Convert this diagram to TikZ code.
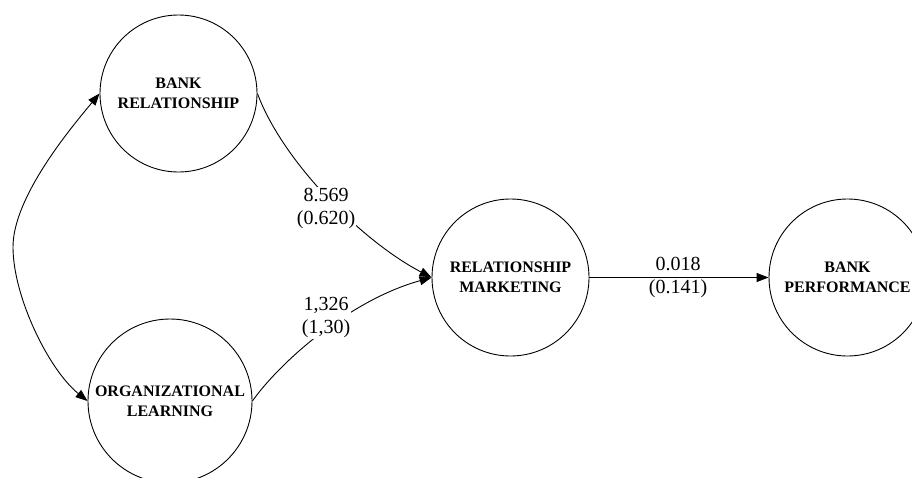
\documentclass[tikz,border=0pt]{standalone}
\usepackage{fontspec}
\setmainfont{Liberation Serif}
\usetikzlibrary{arrows.meta}
\begin{document}
\begin{tikzpicture}[x=1pt,y=-1pt,
  latent/.style={draw, circle, line width=0.9pt, inner sep=0pt, minimum size=157pt, align=center, font=\fontsize{16}{20}\selectfont\bfseries},
  tip/.style={Triangle[length=12pt,width=9pt]},
  conn/.style={line width=0.9pt, -{Triangle[length=12pt,width=9pt]}},
  biconn/.style={line width=0.9pt, {Triangle[length=12pt,width=9pt]}-{Triangle[length=12pt,width=9pt]}},
  coef/.style={align=center, font=\fontsize{20}{23}\selectfont, fill=white, inner sep=1pt},
  coefplain/.style={align=center, font=\fontsize{20}{23}\selectfont, inner sep=1pt}]
\useasboundingbox (0,0) rectangle (912,477);
\clip (0,0) rectangle (912,477);
\node[latent] (br) at (178.5,93.5) {BANK\\RELATIONSHIP};
\node[latent, minimum size=164pt] (ol) at (170,401) {ORGANIZATIONAL\\LEARNING};
\node[latent] (rm) at (510.5,277.5) {RELATIONSHIP\\MARKETING};
\node[latent] (bp) at (847.5,277.5) {BANK\\PERFORMANCE};
\coordinate (lm) at (13,247);
% correlation arc
\draw[biconn] (br.west) .. controls (70.8,128) and (13,197) .. (lm)
  .. controls (13,297) and (49,370) .. (ol.west);
% paths
\draw[conn] (br.east) .. controls (282,160) and (360,240) .. (rm.west);
\draw[conn] (ol.east) .. controls (280,362) and (350,300) .. (rm.west);
\draw[conn] (rm) -- (bp);
% coefficients
\node[coef] (c1) at (326,208) {8.569\\(0.620)};
\node[coef] (c2) at (326,318) {1,326\\(1,30)};
\node[coefplain] (c3) at (678,277) {0.018\\(0.141)};
\end{tikzpicture}
\end{document}
